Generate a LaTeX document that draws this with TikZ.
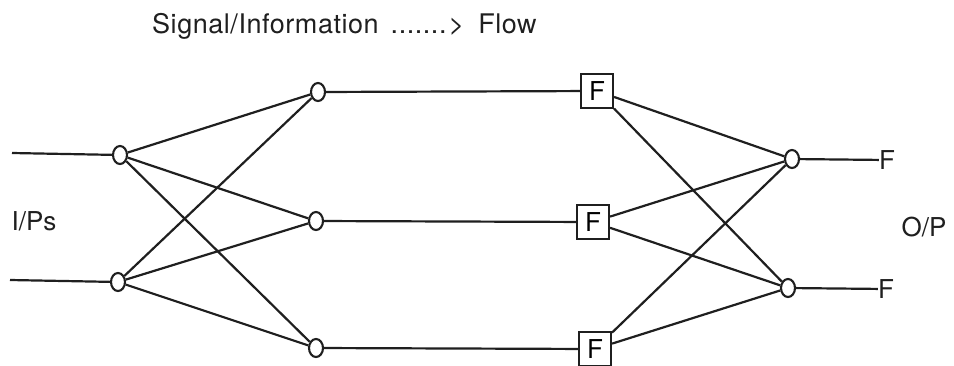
\documentclass[tikz,border=0pt]{standalone}
\usepackage{fontspec}
\setmainfont{TeX Gyre Heros}
\usetikzlibrary{shapes.geometric}
\begin{document}
\begin{tikzpicture}[x=1pt,y=-1pt,
  link/.style={line width=2.2pt, draw=black!88},
  onode/.style={ellipse, draw=black!88, line width=2.1pt, minimum width=14pt, minimum height=18pt, inner sep=0pt},
  fbox/.style={rectangle, draw=black!88, line width=2.1pt, minimum width=32pt, minimum height=34pt, inner sep=0pt, font=\fontsize{26}{28}\selectfont},
  lbl/.style={font=\fontsize{26}{28}\selectfont, text=black!88, inner sep=0pt}]
\useasboundingbox (0,0) rectangle (954,365);
% title
\node[lbl, anchor=base west, font=\fontsize{27}{30}\selectfont] (title) at (152,33) {\addfontfeatures{LetterSpace=2}Signal/Information\hspace{4pt} .......\hspace{2pt}>\hspace{6pt} Flow};
% input line starts
\coordinate (s1) at (12,153);
\coordinate (s2) at (10,280);
% input nodes
\node[onode] (i1) at (120,155) {};
\node[onode] (i2) at (118,282) {};
% hidden nodes
\node[onode] (h1) at (318,92) {};
\node[onode] (h2) at (316,221) {};
\node[onode] (h3) at (316,348) {};
% F boxes
\node[fbox] (f1) at (597,91) {F};
\node[fbox] (f2) at (593,222) {F};
\node[fbox] (f3) at (595,349) {F};
% output nodes
\node[onode] (o1) at (792,159) {};
\node[onode] (o2) at (788,288) {};
% output labels
\node[lbl] (of1) at (887,160) {F};
\node[lbl] (of2) at (886,289) {F};
\node[lbl] (ips) at (34,221) {I/Ps};
\node[lbl] (op) at (924,227) {O/P};
% connectors
\draw[link] (s1) -- (i1);
\draw[link] (s2) -- (i2);
\foreach \a in {i1,i2}{
  \foreach \b in {h1,h2,h3}{
    \draw[link] (\a) -- (\b);
  }
}
\draw[link] (h1) -- (f1);
\draw[link] (h2) -- (f2);
\draw[link] (h3) -- (f3);
\foreach \a in {f1,f2,f3}{
  \foreach \b in {o1,o2}{
    \draw[link] (\a) -- (\b);
  }
}
\draw[link] (o1) -- (of1);
\draw[link] (o2) -- (of2);
\end{tikzpicture}
\end{document}
